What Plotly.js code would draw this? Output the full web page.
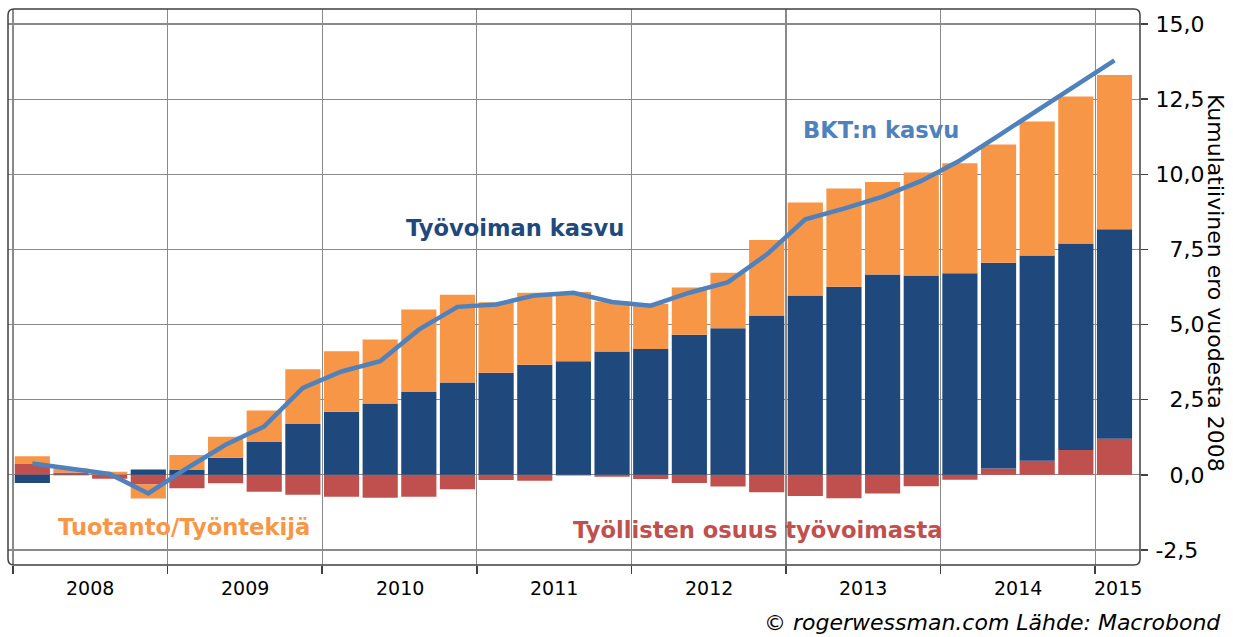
<!DOCTYPE html>
<html>
<head>
<meta charset="utf-8">
<script src="https://cdn.plot.ly/plotly-3.0.1.min.js"></script>
<style>html,body{margin:0;padding:0;background:#fff;}#chart{width:1233px;height:637px;}</style>
</head>
<body>
<div id="chart"></div>
<script>
// Quarters 2008Q1 .. 2015Q1
const quarters = ['2008Q1','2008Q2','2008Q3','2008Q4','2009Q1','2009Q2','2009Q3','2009Q4',
  '2010Q1','2010Q2','2010Q3','2010Q4','2011Q1','2011Q2','2011Q3','2011Q4',
  '2012Q1','2012Q2','2012Q3','2012Q4','2013Q1','2013Q2','2013Q3','2013Q4',
  '2014Q1','2014Q2','2014Q3','2014Q4','2015Q1'];

// Työllisten osuus työvoimasta (red)
const tyollistenOsuus = [0.36, 0.08, -0.13, -0.32, -0.45, -0.28, -0.56, -0.66, -0.73, -0.76, -0.73, -0.48,
  -0.17, -0.20, -0.02, -0.06, -0.14, -0.27, -0.39, -0.58, -0.70, -0.78, -0.62, -0.38, -0.16, 0.21, 0.47, 0.83, 1.20];
// Työvoiman kasvu (dark blue)
const tyovoimanKasvu = [-0.27, -0.01, 0.01, 0.18, 0.16, 0.57, 1.09, 1.69, 2.10, 2.37, 2.76, 3.07,
  3.40, 3.66, 3.78, 4.10, 4.19, 4.66, 4.88, 5.30, 5.97, 6.26, 6.67, 6.63, 6.71, 6.85, 6.83, 6.87, 6.97];
// Tuotanto/Työntekijä (orange)
const tuotantoPerTyontekija = [0.26, 0.13, 0.09, -0.47, 0.50, 0.70, 1.05, 1.82, 2.01, 2.13, 2.74, 2.92,
  2.34, 2.40, 2.30, 1.67, 1.50, 1.57, 1.84, 2.51, 3.09, 3.27, 3.07, 3.43, 3.66, 3.93, 4.46, 4.89, 5.13];
// BKT:n kasvu (line)
const bktKasvu = [0.38, 0.22, 0.03, -0.62, 0.22, 1.00, 1.61, 2.89, 3.44, 3.78, 4.83, 5.59,
  5.67, 5.97, 6.06, 5.75, 5.63, 6.06, 6.41, 7.33, 8.50, 8.86, 9.26, 9.78, 10.46, 11.29, 12.13, 12.97, 13.79];

const years = ['2008','2009','2010','2011','2012','2013','2014','2015'];
const yTickVals = [-2.5, 0, 2.5, 5, 7.5, 10, 12.5, 15];
const yTickText = ['-2,5','0,0','2,5','5,0','7,5','10,0','12,5','15,0'];

const xIdx = quarters.map((q, i) => i);
const xRange = [-0.63, 28.66];
const font = 'DejaVu Sans, Verdana, sans-serif';

const cRed = '#C0504D', cBlue = '#1F497D', cOrange = '#F79646', cLine = '#4F81BD';

const traces = [
  {type:'bar', x:xIdx, y:tyollistenOsuus, name:'Työllisten osuus työvoimasta', marker:{color:cRed}, text:quarters, hoverinfo:'text+y'},
  {type:'bar', x:xIdx, y:tyovoimanKasvu, name:'Työvoiman kasvu', marker:{color:cBlue}, text:quarters, hoverinfo:'text+y'},
  {type:'bar', x:xIdx, y:tuotantoPerTyontekija, name:'Tuotanto/Työntekijä', marker:{color:cOrange}, text:quarters, hoverinfo:'text+y'},
  {type:'scatter', mode:'lines', x:xIdx, y:bktKasvu, name:'BKT:n kasvu', line:{color:cLine, width:4.5}, text:quarters, hoverinfo:'text+y'}
];
traces.forEach(t => { if (t.type === 'bar') t.textposition = 'none'; });

// year boundaries & label positions
const yearBounds = years.map((y, k) => 4*k - 0.5);
const yearAnn = years.map((y, k) => {
  const a = Math.max(4*k - 0.5, xRange[0]);
  const b = Math.min(4*k + 3.5, xRange[1]);
  return {x:(a+b)/2, y:-0.0414, xref:'x', yref:'paper', text:y, showarrow:false,
    xanchor:'center', yanchor:'middle', font:{family:font, size:19, color:'#000'}};
});

const rx = 6/1132, ry = 6/556;
const borderPath = `M ${rx} 0 L ${1-rx} 0 Q 1 0 1 ${ry} L 1 ${1-ry} Q 1 1 ${1-rx} 1 L ${rx} 1 Q 0 1 0 ${1-ry} L 0 ${ry} Q 0 0 ${rx} 0 Z`;

const seriesLabels = [
  {x:12.49, y:8.2, text:'<b>Työvoiman kasvu</b>', color:cBlue},
  {x:21.96, y:11.47, text:'<b>BKT:n kasvu</b>', color:cLine},
  {x:3.92, y:-1.72, text:'<b>Tuotanto/Työntekijä</b>', color:cOrange},
  {x:18.78, y:-1.82, text:'<b>Työllisten osuus työvoimasta</b>', color:cRed}
].map(l => ({x:l.x, y:l.y, xref:'x', yref:'y', text:l.text, showarrow:false,
  xanchor:'center', yanchor:'middle', font:{family:font, size:22.6, color:l.color}}));

const layout = {
  width:1233, height:637,
  margin:{l:8, r:93, t:9, b:72, pad:0},
  paper_bgcolor:'#fff', plot_bgcolor:'#fff',
  barmode:'relative', bargap:0.09,
  showlegend:false,
  font:{family:font, color:'#000'},
  xaxis:{range:xRange, tickmode:'array', tickvals:yearBounds, showticklabels:false,
    ticks:'outside', ticklen:8, tickcolor:'#404040', tickwidth:1.5,
    showgrid:true, gridcolor:'#8a8a8a', gridwidth:1.3, zeroline:false, showline:false, fixedrange:true},
  yaxis:{range:[-3, 15.5], side:'right', tickmode:'array', tickvals:yTickVals,
    ticktext:yTickText.map(t => t.length < 4 ? '\u2007' + t : t),
    ticks:'outside', ticklen:7, tickcolor:'#404040', tickwidth:1.5, ticklabelstandoff:3,
    tickfont:{family:font, size:22, color:'#000'},
    showgrid:true, gridcolor:'#8a8a8a', gridwidth:1.3, zeroline:false, showline:false, fixedrange:true},
  shapes:[{type:'path', xref:'paper', yref:'paper', path:borderPath, line:{color:'#404040', width:1.5}, layer:'above'}],
  annotations: [
    ...yearAnn,
    ...seriesLabels,
    {x:1.0672, y:0.507, xref:'paper', yref:'paper', text:'Kumulatiivinen ero vuodesta 2008', textangle:90,
      showarrow:false, xanchor:'center', yanchor:'middle', font:{family:font, size:22, color:'#000'}},
    {x:1.0735, y:-0.104, xref:'paper', yref:'paper', text:'<i>© rogerwessman.com Lähde: Macrobond</i>',
      showarrow:false, xanchor:'right', yanchor:'middle', font:{family:font, size:22, color:'#000'}}
  ]
};

Plotly.newPlot('chart', traces, layout, {displayModeBar:false, staticPlot:true});
</script>
</body>
</html>
